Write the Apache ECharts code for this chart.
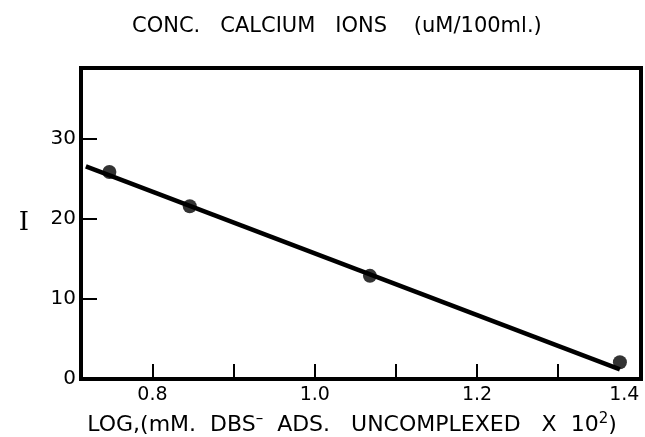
<!DOCTYPE html>
<html>
<head>
<meta charset="utf-8">
<script src="https://cdn.jsdelivr.net/npm/echarts@6/dist/echarts.min.js"></script>
<style>
  html, body { margin: 0; padding: 0; background: #fff; }
  #chart { width: 645px; height: 437px; }
</style>
</head>
<body>
<div id="chart"></div>
<script>
// measured points
const logDbs = [0.747, 0.846, 1.068, 1.376]
const calcium = [25.9, 21.6, 12.9, 2.1]
// fitted straight line, drawn end to end
const fitX = [0.718, 1.376]
const fitY = [26.6, 1.2]
// axis ticks and labels
const xTicks = [0.8, 0.9, 1.0, 1.1, 1.2, 1.3]
const xLabels = [0.8, 1.0, 1.2, 1.4]
const yTicks = [10, 20, 30]
const yLabels = [0, 10, 20, 30]

const ink = '#000'
const font = 'DejaVu Sans'

const chart = echarts.init( document.getElementById( 'chart' ) )

chart.setOption( {
  backgroundColor : '#fff',
  animation : false,
  title : {
    text : 'CONC.   CALCIUM   IONS    (uM/100ml.)',
    left : 127,
    top : 11,
    textStyle : {
      fontFamily : font,
      fontWeight : 'normal',
      fontSize : 21,
      color : ink
    }
  },
  grid : {
    left : 81,
    right : 4,
    top : 68,
    bottom : 58,
    outerBoundsMode : 'none',
    show : true,
    borderColor : ink,
    borderWidth : 4,
    backgroundColor : 'transparent'
  },
  xAxis : {
    type : 'value',
    min : 0.712,
    max : 1.402,
    name : 'LOG,(mM.  DBS{sup|–}  ADS.   UNCOMPLEXED   X  10{sup|2})',
    nameLocation : 'middle',
    nameGap : 33,
    nameTextStyle : {
      fontFamily : font,
      fontSize : 22,
      color : ink,
      padding : [0, 18, 0, 0],
      rich : {
        sup : {
          fontFamily : font,
          fontSize : 15,
          color : ink,
          padding : [0, 0, 11, 0]
        }
      }
    },
    axisLine : { show : true, lineStyle : { color : ink, width : 4 } },
    axisTick : {
      show : true,
      inside : true,
      length : 15,
      customValues : xTicks,
      lineStyle : { color : ink, width : 2 }
    },
    axisLabel : {
      customValues : xLabels,
      formatter : ( v ) => v.toFixed( 1 ),
      alignMaxLabel : 'right',
      fontFamily : font,
      fontSize : 19,
      color : ink,
      margin : 7
    },
    splitLine : { show : false }
  },
  yAxis : {
    type : 'value',
    min : 0,
    max : 38.9,
    name : 'I',
    nameLocation : 'middle',
    nameRotate : 0,
    nameGap : 52,
    nameTextStyle : {
      fontFamily : 'DejaVu Serif',
      fontSize : 26,
      color : ink
    },
    axisLine : { show : true, lineStyle : { color : ink, width : 4 } },
    axisTick : {
      show : true,
      inside : true,
      length : 16,
      customValues : yTicks,
      lineStyle : { color : ink, width : 2 }
    },
    axisLabel : {
      customValues : yLabels,
      fontFamily : font,
      fontSize : 20,
      color : ink,
      margin : 5
    },
    splitLine : { show : false }
  },
  series : [
    {
      type : 'line',
      data : fitX.map( ( x, i ) => [x, fitY[i]] ),
      symbol : 'none',
      lineStyle : { color : ink, width : 4.5 },
      z : 2
    },
    {
      type : 'scatter',
      data : logDbs.map( ( x, i ) => [x, calcium[i]] ),
      symbol : 'circle',
      symbolSize : 14,
      itemStyle : { color : ink },
      z : 3
    }
  ]
} )
</script>
</body>
</html>
